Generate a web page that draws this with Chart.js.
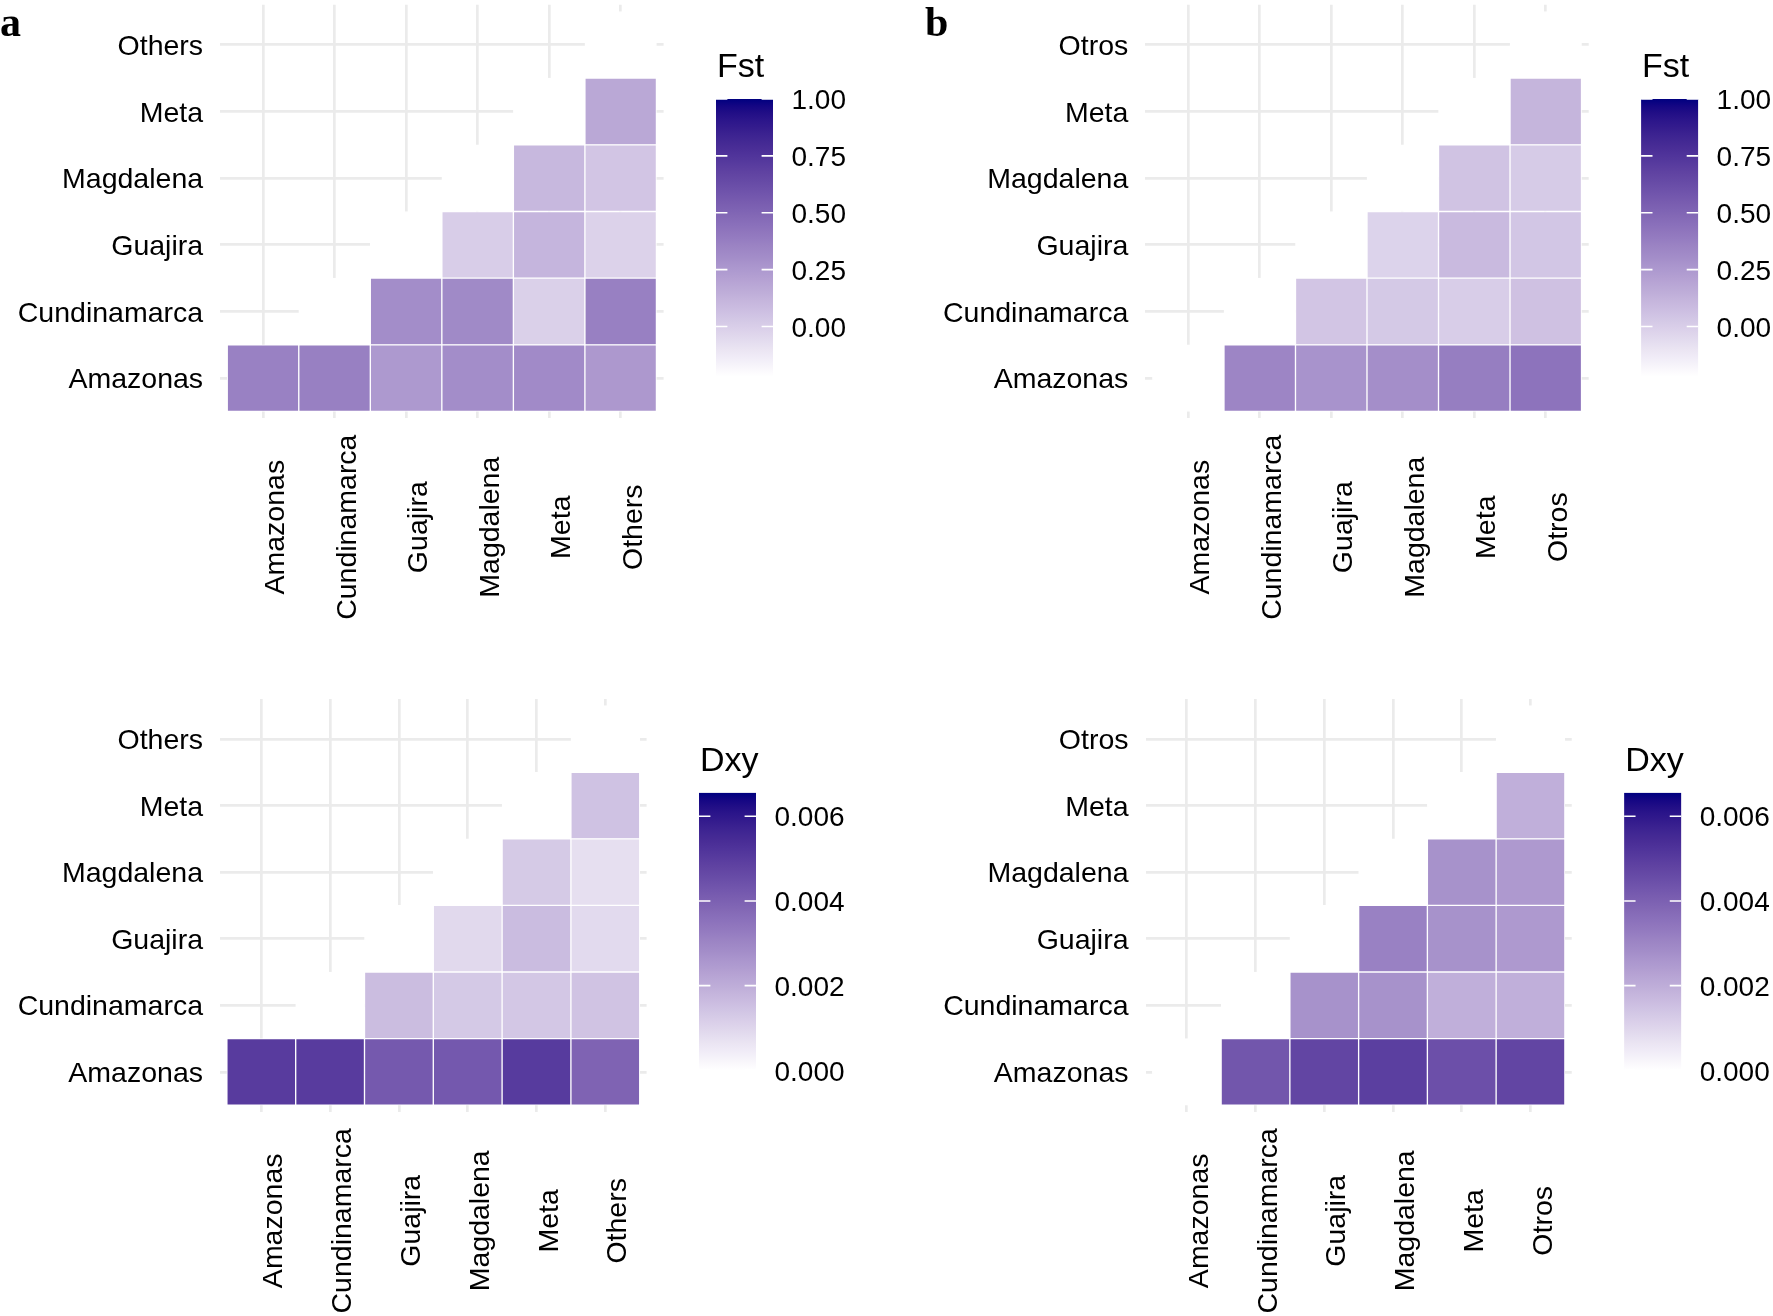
<!DOCTYPE html>
<html>
<head>
<meta charset="utf-8">
<script src="https://cdn.jsdelivr.net/npm/chart.js@4.4.1/dist/chart.umd.min.js"></script>
<style>
  body { margin: 0; background: #fff; overflow: hidden; }
  #page { position: relative; width: 1773px; height: 1316px; }
  canvas { position: absolute; }
  .tag { position: absolute; font: bold 42px "Liberation Serif", "Times New Roman", serif; line-height: 42px; color: #000; }
</style>
</head>
<body>
<div id="page">
  <canvas id="fst-a" width="886" height="660" style="left:0;top:0"></canvas>
  <canvas id="fst-b" width="887" height="660" style="left:886px;top:0"></canvas>
  <canvas id="dxy-a" width="886" height="656" style="left:0;top:660px"></canvas>
  <canvas id="dxy-b" width="887" height="656" style="left:886px;top:660px"></canvas>
  <div class="tag" style="left:0;top:1px">a</div>
  <div class="tag" style="left:925px;top:1px">b</div>
</div>
<script>
// regions, bottom row / left column first
const regionsA = ['Amazonas', 'Cundinamarca', 'Guajira', 'Magdalena', 'Meta', 'Others']
const regionsB = ['Amazonas', 'Cundinamarca', 'Guajira', 'Magdalena', 'Meta', 'Otros']

// one line per row (Amazonas first), one entry per column
// null = no tile, NaN = NA tile (drawn white)
const fstA = [
  [0.363, 0.367, 0.248, 0.305, 0.317, 0.250],
  [null, NaN, 0.307, 0.321, -0.010, 0.367],
  [null, null, NaN, 0.006, 0.113, -0.019],
  [null, null, null, NaN, 0.100, 0.039],
  [null, null, null, null, NaN, 0.174],
  [null, null, null, null, null, NaN],
]
const fstB = [
  [NaN, 0.342, 0.278, 0.299, 0.378, 0.431],
  [null, NaN, 0.041, 0.024, 0.006, 0.058],
  [null, null, NaN, -0.021, 0.091, 0.036],
  [null, null, null, NaN, 0.052, 0.014],
  [null, null, null, null, NaN, 0.115],
  [null, null, null, null, null, NaN],
]
const dxyA = [
  [0.00502, 0.00502, 0.00421, 0.00422, 0.00503, 0.00392],
  [null, NaN, 0.00160, 0.00131, 0.00134, 0.00144],
  [null, null, NaN, 0.00092, 0.00162, 0.00088],
  [null, null, null, NaN, 0.00128, 0.00077],
  [null, null, null, null, NaN, 0.00147],
  [null, null, null, null, null, NaN],
]
const dxyB = [
  [NaN, 0.00429, 0.00474, 0.00493, 0.00447, 0.00474],
  [null, NaN, 0.00269, 0.00269, 0.00195, 0.00195],
  [null, null, NaN, 0.00314, 0.00269, 0.00250],
  [null, null, null, NaN, 0.00269, 0.00250],
  [null, null, null, null, NaN, 0.00195],
  [null, null, null, null, null, NaN],
]

const fstLimits = [-0.22, 1]
const dxyLimits = [0, 0.00655]
const fstBreaks = [0, 0.25, 0.5, 0.75, 1]
const dxyBreaks = [0, 0.002, 0.004, 0.006]

// white -> navy, interpolated in Lab like ggplot's scale_fill_gradient
function toLab(hex) {
  const c = [1, 3, 5].map(i => parseInt(hex.slice(i, i + 2), 16) / 255)
    .map(v => v <= 0.04045 ? v / 12.92 : Math.pow((v + 0.055) / 1.055, 2.4))
  const x = (0.4124 * c[0] + 0.3576 * c[1] + 0.1805 * c[2]) / 0.95047
  const y = 0.2126 * c[0] + 0.7152 * c[1] + 0.0722 * c[2]
  const z = (0.0193 * c[0] + 0.1192 * c[1] + 0.9505 * c[2]) / 1.08883
  const f = t => t > 0.008856 ? Math.cbrt(t) : 7.787 * t + 16 / 116
  return [116 * f(y) - 16, 500 * (f(x) - f(y)), 200 * (f(y) - f(z))]
}
function fromLab([L, a, b]) {
  const fy = (L + 16) / 116, fx = fy + a / 500, fz = fy - b / 200
  const inv = t => t ** 3 > 0.008856 ? t ** 3 : (t - 16 / 116) / 7.787
  const x = inv(fx) * 0.95047, y = inv(fy), z = inv(fz) * 1.08883
  const lin = [
    3.2406 * x - 1.5372 * y - 0.4986 * z,
    -0.9689 * x + 1.8758 * y + 0.0415 * z,
    0.0557 * x - 0.2040 * y + 1.0570 * z,
  ]
  return 'rgb(' + lin.map(v => {
    v = Math.max(0, Math.min(1, v))
    v = v <= 0.0031308 ? 12.92 * v : 1.055 * Math.pow(v, 1 / 2.4) - 0.055
    return Math.round(v * 255)
  }).join(',') + ')'
}
const lowLab = toLab('#FFFFFF')
const highLab = toLab('#000080')
function ramp(t) {
  t = Math.max(0, Math.min(1, t))
  return fromLab(lowLab.map((v, i) => v + (highLab[i] - v) * t))
}

const textFont = '"Liberation Sans", Arial, sans-serif'

// colour bar + rotated column labels (centred like ggplot's angle = 90)
const heatExtras = {
  id: 'heatExtras',
  afterDraw(chart, args, opts) {
    const { ctx, chartArea } = chart
    const xScale = chart.scales.x
    ctx.save()
    ctx.fillStyle = '#000'
    ctx.font = '28.5px ' + textFont
    ctx.textAlign = 'center'
    ctx.textBaseline = 'alphabetic'
    opts.columns.forEach((name, j) => {
      ctx.save()
      ctx.translate(xScale.getPixelForValue(j), chartArea.bottom + 109)
      ctx.rotate(-Math.PI / 2)
      ctx.fillText(name, 0, 21)
      ctx.restore()
    })

    const left = chartArea.right + 52.4
    const width = 57
    const height = 277.5
    const top = (chartArea.top + chartArea.bottom) / 2 - 112.5
    const lo = opts.limits[0], hi = opts.limits[1]
    const grad = ctx.createLinearGradient(0, top + height, 0, top)
    const stops = 40
    for (let k = 0; k <= stops; k++) grad.addColorStop(k / stops, ramp(k / stops))
    ctx.fillStyle = grad
    ctx.fillRect(left, top, width, height)

    const toY = v => top + (hi - v) / (hi - lo) * height
    ctx.strokeStyle = '#fff'
    ctx.lineWidth = 1.6
    opts.breaks.forEach(b => {
      const y = toY(b)
      ctx.beginPath()
      ctx.moveTo(left, y); ctx.lineTo(left + width / 5, y)
      ctx.moveTo(left + width * 4 / 5, y); ctx.lineTo(left + width, y)
      ctx.stroke()
    })
    ctx.fillStyle = '#000'
    ctx.textAlign = 'left'
    ctx.textBaseline = 'middle'
    ctx.font = '28px ' + textFont
    opts.breaks.forEach(b => ctx.fillText(b.toFixed(opts.digits), left + width + 18.5, toY(b) + 2.5))
    ctx.textBaseline = 'alphabetic'
    ctx.font = '34px ' + textFont
    ctx.fillText(opts.title, left + 1, top - 22)
    ctx.restore()
  }
}

function heatmap(id, regions, values, limits, breaks, title, digits, box) {
  const [lo, hi] = limits
  const tileColor = v => Number.isNaN(v) ? '#fff' : ramp((v - lo) / (hi - lo))
  const datasets = values.map((row, i) => ({
    data: row.map((v, j) => v === null ? null : { x: j, y: [i - 0.5, i + 0.5], v }).filter(d => d),
    backgroundColor: ctx => ctx.raw ? tileColor(ctx.raw.v) : '#fff',
    borderColor: '#fff',
    borderWidth: 1,
    borderSkipped: false,
    grouped: false,
    barPercentage: 1,
    categoryPercentage: 1,
  }))
  const grid = { color: '#EBEBEB', lineWidth: 2.7, drawTicks: false, offset: false }
  const setTicks = s => { s.ticks = regions.map((_, i) => ({ value: i })) }
  return new Chart(document.getElementById(id), {
    type: 'bar',
    data: { datasets },
    options: {
      responsive: false,
      animation: false,
      events: [],
      layout: { padding: { top: box.top, right: box.right, left: 0, bottom: 0 } },
      scales: {
        x: {
          type: 'linear', min: -0.6, max: 5.6, offset: false,
          afterBuildTicks: setTicks,
          afterFit: s => { s.height = box.xAxis; s.paddingLeft = 0; s.paddingRight = 0 },
          ticks: { display: false },
          grid, border: { display: false },
        },
        y: {
          type: 'linear', min: -0.6, max: 5.6,
          afterBuildTicks: setTicks,
          afterFit: s => { s.width = box.yAxis; s.paddingTop = 0; s.paddingBottom = 0 },
          ticks: {
            callback: v => regions[v], autoSkip: false, padding: 17, labelOffset: 2.3,
            color: '#000', font: { family: textFont, size: 28.5 },
          },
          grid, border: { display: false },
        },
      },
      plugins: {
        legend: { display: false },
        tooltip: { enabled: false },
        heatExtras: { columns: regions, limits, breaks, title, digits },
      },
    },
    plugins: [heatExtras],
  })
}

heatmap('fst-a', regionsA, fstA, fstLimits, fstBreaks, 'Fst', 2,
  { top: 4.8, right: 222.4, yAxis: 220.1, xAxis: 241.8 })
heatmap('fst-b', regionsB, fstB, fstLimits, fstBreaks, 'Fst', 2,
  { top: 4.8, right: 184.3, yAxis: 259.3, xAxis: 241.8 })
heatmap('dxy-a', regionsA, dxyA, dxyLimits, dxyBreaks, 'Dxy', 3,
  { top: 39, right: 239.4, yAxis: 220, xAxis: 204.2 })
heatmap('dxy-b', regionsB, dxyB, dxyLimits, dxyBreaks, 'Dxy', 3,
  { top: 39, right: 201.25, yAxis: 259.5, xAxis: 204.2 })
</script>
</body>
</html>
